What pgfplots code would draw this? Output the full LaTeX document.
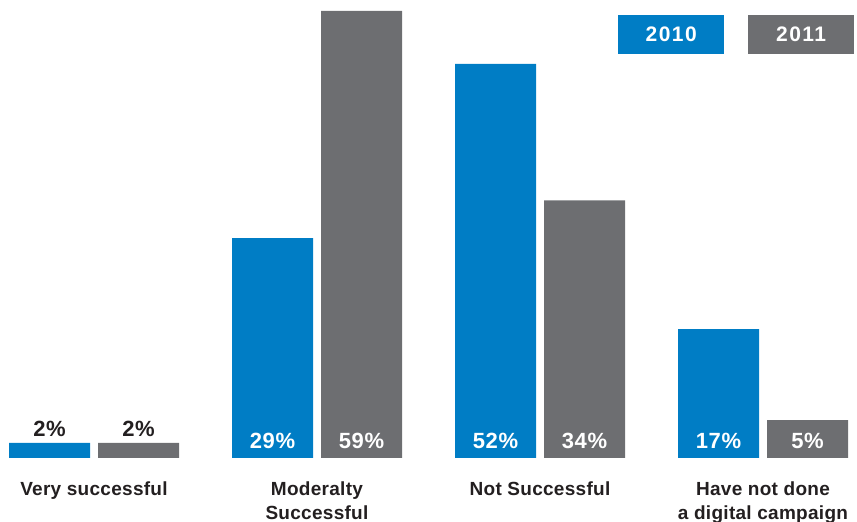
\documentclass[border=0pt]{standalone}
\usepackage{fontspec}
\setmainfont{Liberation Sans}
\usepackage{pgfplots}
\pgfplotsset{compat=1.18}
\definecolor{cblue}{RGB}{0,125,197}
\definecolor{cgray}{RGB}{109,110,113}
\definecolor{ctext}{RGB}{35,31,32}
\begin{document}
\begin{tikzpicture}[x=1pt,y=1pt]
\path[use as bounding box] (0,0) rectangle (857,522);
\begin{axis}[at={(0pt,64pt)}, anchor=south west,
  scale only axis, width=857pt, height=458pt,
  xmin=0, xmax=857, ymin=0, ymax=60.42,
  axis line style={draw=none}, tick style={draw=none}, ytick=\empty,
  xtick={94,317,540,763},
  xticklabels={Very successful, {Moderalty\\Successful}, Not Successful, {Have not done\\a digital campaign}},
  xticklabel style={align=center, font=\fontsize{19}{24}\selectfont\bfseries\addfontfeature{LetterSpace=1.5}, text=ctext, anchor=north, inner sep=0pt, yshift=-23.5pt},
  /pgf/number format/assume math mode=true,
  clip=false]
\addplot[ybar, bar width=81pt, fill=cblue, draw=none, bar shift=-44.5pt] coordinates {(94,2) (317,29) (540,52) (763,17)};
\addplot[ybar, bar width=81pt, fill=cgray, draw=none, bar shift=44.5pt] coordinates {(94,2) (317,59) (540,34) (763,5)};
\addplot[only marks, mark=none, point meta=explicit,
  nodes near coords={\pgfmathprintnumber{\pgfplotspointmeta}\%},
  every node near coord/.append style={anchor=base, inner sep=0pt, font=\fontsize{22}{26}\selectfont\bfseries\addfontfeature{LetterSpace=3}, text=white}]
  table[meta=v] {
x y v
272.5 1.19 29
361.5 1.19 59
495.5 1.19 52
584.5 1.19 34
718.5 1.19 17
807.5 1.19 5
};
\addplot[only marks, mark=none, point meta=explicit,
  nodes near coords={\pgfmathprintnumber{\pgfplotspointmeta}\%},
  every node near coord/.append style={anchor=base, inner sep=0pt, font=\fontsize{22}{26}\selectfont\bfseries\addfontfeature{LetterSpace=3}, text=ctext}]
  table[meta=v] {
x y v
49.5 2.90 2
138.5 2.90 2
};
\end{axis}
\node[fill=cblue, minimum width=106pt, minimum height=39pt, anchor=north west, inner sep=0pt, text=white, font=\fontsize{21}{25}\selectfont\bfseries\addfontfeature{LetterSpace=7}] at (618,507) {2010};
\node[fill=cgray, minimum width=106pt, minimum height=39pt, anchor=north west, inner sep=0pt, text=white, font=\fontsize{21}{25}\selectfont\bfseries\addfontfeature{LetterSpace=7}] at (748,507) {2011};
\end{tikzpicture}
\end{document}
